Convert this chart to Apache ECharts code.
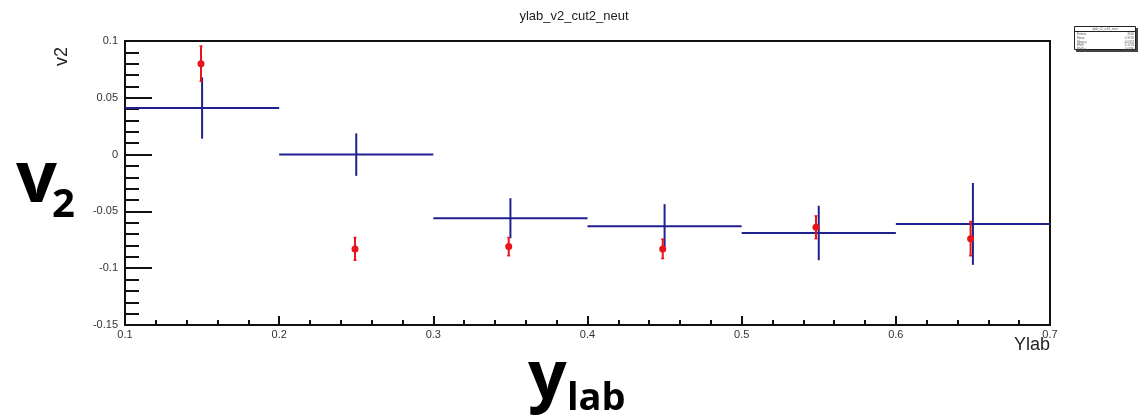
<!DOCTYPE html>
<html>
<head>
<meta charset="utf-8">
<script src="https://cdn.jsdelivr.net/npm/echarts@6/dist/echarts.min.js"></script>
<style>
    html, body { margin: 0; padding: 0; background: #fff; }
    #chart { width: 1148px; height: 415px; }
</style>
</head>
<body>
<div id="chart"></div>
<script>
// bins (blue, x error = half bin width)
const binCenters = [0.15, 0.25, 0.35, 0.45, 0.55, 0.65]
const binHalfWidth = [0.05, 0.05, 0.05, 0.05, 0.05, 0.05]
const blueV2 = [0.041, 0.0, -0.056, -0.063, -0.069, -0.061]
const blueErr = [0.027, 0.0187, 0.0176, 0.0194, 0.024, 0.036]

// red points
const redX = [0.1493, 0.2492, 0.3489, 0.4488, 0.5482, 0.6485]
const redV2 = [0.080, -0.083, -0.081, -0.083, -0.064, -0.074]
const redErr = [0.0155, 0.010, 0.008, 0.0085, 0.010, 0.015]

// axis ticks
const xTicks = [0.1, 0.2, 0.3, 0.4, 0.5, 0.6, 0.7]
const yTicks = [-0.15, -0.1, -0.05, 0, 0.05, 0.1]

// stats box
const statNames = ['Entries', 'Mean', 'Mean y', 'RMS', 'RMS y']
const statValues = ['3600', '0.3729', '-0.0374', '0.1703', '0.0395']

const blue = '#20208f'
const red = '#e8141a'
const fontColor = '#333'

const chart = echarts.init(document.getElementById('chart'))

const blueData = binCenters.map((x, i) => [x, blueV2[i], blueErr[i], binHalfWidth[i]])
const redData = redX.map((x, i) => [x, redV2[i], redErr[i]])

const fmt = v => String(Math.round(v * 100) / 100)

const statTexts = []
statNames.forEach((n, i) => {
    statTexts.push({
        type: 'text', x: 1077, y: 33 + i * 3.6,
        style: { text: n, font: '3px "Liberation Sans"', fill: '#555' }
    })
    statTexts.push({
        type: 'text', x: 1134, y: 33 + i * 3.6,
        style: { text: statValues[i], font: '3px "Liberation Sans"', fill: '#555', align: 'right' }
    })
})

const option = {
    backgroundColor: '#fff',
    animation: false,
    grid: {
        left: 125,
        right: 98,
        top: 41,
        bottom: 90,
        show: true,
        borderColor: '#111',
        borderWidth: 2,
        backgroundColor: 'transparent'
    },
    xAxis: {
        type: 'value',
        min: xTicks[0],
        max: xTicks[xTicks.length - 1],
        interval: 0.1,
        axisLine: { show: true, onZero: false, lineStyle: { color: '#111', width: 2 } },
        axisTick: { show: true, inside: true, length: 9, lineStyle: { color: '#111', width: 2 } },
        minorTick: { show: true, splitNumber: 5, length: 5, lineStyle: { color: '#111', width: 2 } },
        splitLine: { show: false },
        axisLabel: {
            margin: 4,
            color: fontColor,
            fontFamily: 'Liberation Sans',
            fontSize: 11,
            formatter: v => fmt(v)
        }
    },
    yAxis: {
        type: 'value',
        min: yTicks[0],
        max: yTicks[yTicks.length - 1],
        interval: 0.05,
        axisLine: { show: true, onZero: false, lineStyle: { color: '#111', width: 2 } },
        axisTick: { show: true, inside: true, length: 27, lineStyle: { color: '#111', width: 2 } },
        minorTick: { show: true, splitNumber: 5, length: 14, lineStyle: { color: '#111', width: 2 } },
        splitLine: { show: false },
        axisLabel: {
            margin: 7,
            color: fontColor,
            fontFamily: 'Liberation Sans',
            fontSize: 11,
            formatter: v => fmt(v)
        }
    },
    graphic: [
        {
            type: 'text', left: 'center', top: 10,
            style: { text: 'ylab_v2_cut2_neut', font: '13px "Liberation Sans"', fill: '#222' }
        },
        {
            type: 'text', x: 53, y: 66, rotation: Math.PI / 2,
            style: { text: 'v2', font: '18px "Liberation Sans"', fill: '#222' }
        },
        {
            type: 'text', x: 1050, y: 336,
            style: { text: 'Ylab', font: '18px "Liberation Sans"', fill: '#222', align: 'right' }
        },
        // big annotation labels
        {
            type: 'text', x: 16, y: 181,
            style: { text: 'v', font: 'bold 72px "Open Sans"', fill: '#000', verticalAlign: 'middle' }
        },
        {
            type: 'text', x: 52, y: 206,
            style: { text: '2', font: 'bold 40px "Open Sans"', fill: '#000', verticalAlign: 'middle' }
        },
        {
            type: 'text', x: 528, y: 380,
            style: { text: 'y', font: 'bold 68px "Open Sans"', fill: '#000', verticalAlign: 'middle' }
        },
        {
            type: 'text', x: 567, y: 399,
            style: { text: 'lab', font: 'bold 38px "Open Sans"', fill: '#000', verticalAlign: 'middle' }
        },
        // stats box
        {
            type: 'rect', shape: { x: 1076, y: 28, width: 62, height: 24 },
            style: { fill: '#444' }
        },
        {
            type: 'rect', shape: { x: 1074.5, y: 26.5, width: 61, height: 23 },
            style: { fill: '#fff', stroke: '#222', lineWidth: 1 }
        },
        {
            type: 'line', shape: { x1: 1074.5, y1: 31.5, x2: 1135.5, y2: 31.5 },
            style: { stroke: '#222', lineWidth: 1 }
        },
        {
            type: 'text', x: 1105, y: 27.5,
            style: { text: 'ylab_v2_cut2_neut', font: '3px "Liberation Sans"', fill: '#555', align: 'center' }
        }
    ].concat(statTexts),
    series: [
        {
            name: 'bins',
            type: 'custom',
            data: blueData,
            z: 2,
            renderItem(params, api) {
                const x = api.value(0)
                const y = api.value(1)
                const e = api.value(2)
                const w = api.value(3)
                const l = api.coord([x - w, y])
                const r = api.coord([x + w, y])
                const t = api.coord([x, y + e])
                const b = api.coord([x, y - e])
                return {
                    type: 'group',
                    children: [
                        { type: 'line', shape: { x1: l[0], y1: l[1], x2: r[0], y2: r[1] }, style: { stroke: blue, lineWidth: 2 } },
                        { type: 'line', shape: { x1: t[0], y1: t[1], x2: b[0], y2: b[1] }, style: { stroke: blue, lineWidth: 2 } }
                    ]
                }
            }
        },
        {
            name: 'points',
            type: 'custom',
            data: redData,
            z: 3,
            renderItem(params, api) {
                const x = api.value(0)
                const y = api.value(1)
                const e = api.value(2)
                const c = api.coord([x, y])
                const t = api.coord([x, y + e])
                const b = api.coord([x, y - e])
                return {
                    type: 'group',
                    children: [
                        { type: 'line', shape: { x1: t[0], y1: t[1], x2: b[0], y2: b[1] }, style: { stroke: red, lineWidth: 2 } },
                        { type: 'line', shape: { x1: t[0] - 1.5, y1: t[1], x2: t[0] + 1.5, y2: t[1] }, style: { stroke: red, lineWidth: 1.5 } },
                        { type: 'line', shape: { x1: b[0] - 1.5, y1: b[1], x2: b[0] + 1.5, y2: b[1] }, style: { stroke: red, lineWidth: 1.5 } },
                        { type: 'circle', shape: { cx: c[0], cy: c[1], r: 3.5 }, style: { fill: red } }
                    ]
                }
            }
        }
    ]
}

chart.setOption(option)
</script>
</body>
</html>
